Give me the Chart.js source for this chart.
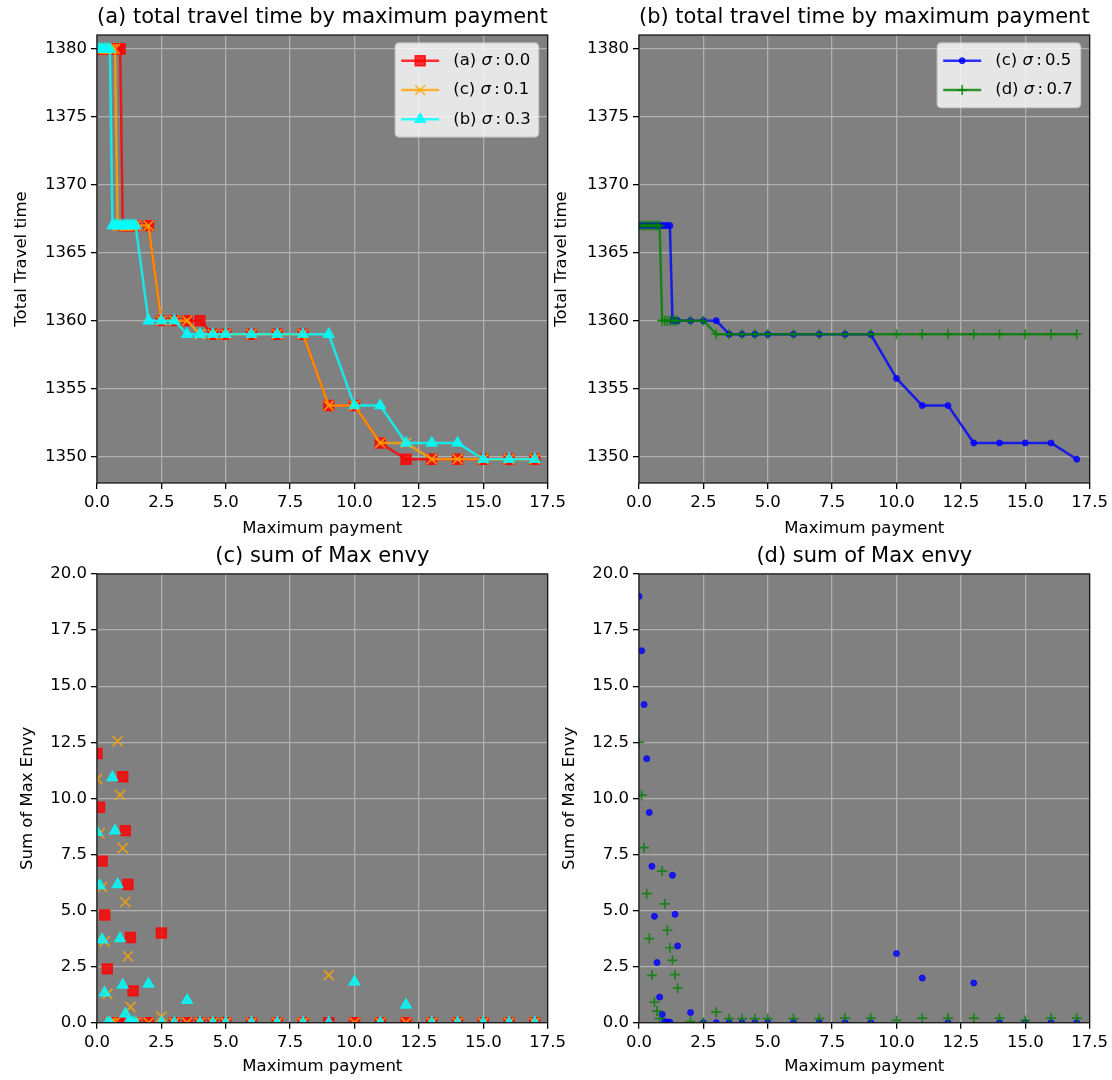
<!DOCTYPE html>
<html>
<head>
<meta charset="utf-8">
<script src="https://cdn.jsdelivr.net/npm/chart.js@4.4.0/dist/chart.umd.min.js"></script>
<style>
  body { margin: 0; background: #fff; }
  #wrap { position: relative; width: 1112px; height: 1080px; overflow: hidden; }
  canvas { position: absolute; }
</style>
</head>
<body>
<div id="wrap">
  <canvas id="chartA" width="570" height="545" style="left:0px;top:0px"></canvas>
  <canvas id="chartB" width="567" height="545" style="left:545px;top:0px"></canvas>
  <canvas id="chartC" width="570" height="541" style="left:0px;top:539px"></canvas>
  <canvas id="chartD" width="567" height="541" style="left:545px;top:539px"></canvas>
</div>
<script>
// maximum payment values used by every series
const payment = [0, 0.1, 0.2, 0.3, 0.4, 0.5, 0.6, 0.7, 0.8, 0.9, 1.0, 1.1, 1.2, 1.3, 1.4, 1.5,
  2, 2.5, 3, 3.5, 4, 4.5, 5, 6, 7, 8, 9, 10, 11, 12, 13, 14, 15, 16, 17];

// total travel time
const timeSigma00 = [1380, 1380, 1380, 1380, 1380, 1380, 1380, 1380, 1380, 1380, 1367, 1367, 1367, 1367, 1367, 1367,
  1367, 1360, 1360, 1360, 1360, 1359, 1359, 1359, 1359, 1359, 1353.75, 1353.75, 1351, 1349.8, 1349.8, 1349.8, 1349.8, 1349.8, 1349.8];
const timeSigma01 = [1380, 1380, 1380, 1380, 1380, 1380, 1380, 1380, 1367, 1367, 1367, 1367, 1367, 1367, 1367, 1367,
  1367, 1360, 1360, 1360, 1359, 1359, 1359, 1359, 1359, 1359, 1353.75, 1353.75, 1351, 1351, 1349.8, 1349.8, 1349.8, 1349.8, 1349.8];
const timeSigma03 = [1380, 1380, 1380, 1380, 1380, 1380, 1367, 1367, 1367, 1367, 1367, 1367, 1367, 1367, 1367, 1367,
  1360, 1360, 1360, 1359, 1359, 1359, 1359, 1359, 1359, 1359, 1359, 1353.75, 1353.75, 1351, 1351, 1351, 1349.8, 1349.8, 1349.8];
const timeSigma05 = [1367, 1367, 1367, 1367, 1367, 1367, 1367, 1367, 1367, 1367, 1367, 1367, 1367, 1360, 1360, 1360,
  1360, 1360, 1360, 1359, 1359, 1359, 1359, 1359, 1359, 1359, 1359, 1355.75, 1353.75, 1353.75, 1351, 1351, 1351, 1351, 1349.8];
const timeSigma07 = [1367, 1367, 1367, 1367, 1367, 1367, 1367, 1367, 1367, 1360, 1360, 1360, 1360, 1360, 1360, 1360,
  1360, 1360, 1359, 1359, 1359, 1359, 1359, 1359, 1359, 1359, 1359, 1359, 1359, 1359, 1359, 1359, 1359, 1359, 1359];

// sum of max envy
const envySigma00 = [12.0, 9.6, 7.2, 4.8, 2.4, 0, 0, 0, 0, 0, 10.96, 8.56, 6.16, 3.8, 1.42, 0,
  0, 4.0, 0, 0, 0, 0, 0, 0, 0, 0, 0, 0, 0, 0, 0, 0, 0, 0, 0];
const envySigma01 = [10.86, 8.44, 6.04, 3.63, 1.28, 0, 0, 0, 12.55, 10.15, 7.78, 5.38, 2.96, 0.7, 0, 0,
  0, 0.27, 0, 0, 0, 0, 0, 0, 0, 0, 2.12, 0, 0, 0, 0, 0, 0, 0, 0];
const envySigma03 = [8.49, 6.12, 3.7, 1.33, 0, 0, 10.93, 8.56, 6.16, 3.75, 1.68, 0.39, 0, 0, 0, 0,
  1.72, 0, 0, 1.0, 0, 0, 0, 0, 0, 0, 0, 1.82, 0, 0.79, 0, 0, 0, 0, 0];
const envySigma05 = [19.0, 16.58, 14.18, 11.77, 9.37, 6.97, 4.74, 2.68, 1.14, 0.37, 0.05, 0.03, 0.02, 6.57, 4.83, 3.42,
  0.45, 0, 0, 0, 0, 0, 0, 0, 0, 0, 0, 3.08, 1.99, 0, 1.77, 0, 0, 0, 0];
const envySigma07 = [12.5, 10.14, 7.8, 5.75, 3.75, 2.11, 0.92, 0.52, 0.18, 6.76, 5.3, 4.12, 3.34, 2.78, 2.14, 1.54,
  0.05, 0.02, 0.47, 0.18, 0.18, 0.18, 0.18, 0.18, 0.18, 0.2, 0.2, 0.1, 0.2, 0.2, 0.2, 0.2, 0.1, 0.2, 0.2];

// tick labels
const paymentTicks = [0, 2.5, 5, 7.5, 10, 12.5, 15, 17.5];
const timeTicks = [1350, 1355, 1360, 1365, 1370, 1375, 1380];
const envyTicks = [0, 2.5, 5, 7.5, 10, 12.5, 15, 17.5, 20];

const FONT = "'DejaVu Sans', sans-serif";
Chart.defaults.font.family = FONT;
Chart.defaults.color = '#000';

const red = { color: 'rgba(255,0,0,0.8)', pointStyle: 'rect', radius: 7, bw: 1.5 };
const orange = { color: 'rgba(255,165,0,0.8)', pointStyle: 'crossRot', radius: 7.1, bw: 1.7 };
const cyan = { color: 'rgba(0,255,255,0.8)', pointStyle: 'triangle', radius: 6, bw: 1.5 };
const blue = { color: 'rgba(0,0,255,0.8)', pointStyle: 'circle', radius: 3, bw: 1 };
const green = { color: 'rgba(0,128,0,0.8)', pointStyle: 'cross', radius: 5, bw: 1.7 };

function series(label, ys, st, showLine, order) {
    return {
        label: label,
        data: payment.map((x, i) => ({ x: x, y: ys[i] })),
        showLine: showLine,
        borderColor: st.color,
        backgroundColor: st.color,
        borderWidth: 2.5,
        borderJoinStyle: 'round',
        pointStyle: st.pointStyle,
        pointRadius: st.radius,
        pointBorderWidth: st.bw,
        pointBackgroundColor: st.color,
        pointBorderColor: st.color,
        clip: 0,
        order: order
    };
}

function drawLegend(chart) {
    const ctx = chart.ctx, a = chart.chartArea;
    const sets = chart.data.datasets;
    const size = 16.5;
    const normal = size + 'px ' + FONT, italic = 'italic ' + size + 'px ' + FONT;
    const parts = sets.map(ds => {
        const p = ds.label.split('σ');
        return { pre: p[0], post: '\u2009' + p[1].replace(':', ':\u2009') };
    });
    let textW = 0;
    parts.forEach(p => {
        ctx.font = normal;
        let w = ctx.measureText(p.pre).width + ctx.measureText(p.post).width;
        ctx.font = italic;
        w += ctx.measureText('σ').width;
        textW = Math.max(textW, w);
    });
    const rowH = 29.3, pad = 17.7, handle = 38;
    const w = 6 + handle + 14 + textW + 8;
    const h = pad * 2 + rowH * (sets.length - 1);
    const x0 = a.right - 9 - w, y0 = a.top + 8;

    ctx.beginPath();
    ctx.roundRect(x0, y0, w, h, 4);
    ctx.fillStyle = 'rgba(255,255,255,0.8)';
    ctx.fill();
    ctx.strokeStyle = 'rgba(204,204,204,0.8)';
    ctx.lineWidth = 1.3;
    ctx.stroke();

    sets.forEach((ds, i) => {
        const cy = y0 + pad + i * rowH;
        ctx.strokeStyle = ds.borderColor;
        ctx.lineWidth = ds.borderWidth;
        ctx.beginPath();
        ctx.moveTo(x0 + 6, cy);
        ctx.lineTo(x0 + 6 + handle, cy);
        ctx.stroke();
        ctx.fillStyle = ds.pointBackgroundColor;
        ctx.strokeStyle = ds.pointBorderColor;
        ctx.lineWidth = ds.pointBorderWidth;
        Chart.helpers.drawPoint(ctx, {
            pointStyle: ds.pointStyle, radius: ds.pointRadius,
            borderWidth: ds.pointBorderWidth, rotation: 0
        }, x0 + 6 + handle / 2, cy);

        let tx = x0 + 6 + handle + 14;
        ctx.fillStyle = '#000';
        ctx.textBaseline = 'middle';
        ctx.textAlign = 'left';
        ctx.font = normal;
        ctx.fillText(parts[i].pre, tx, cy);
        tx += ctx.measureText(parts[i].pre).width;
        ctx.font = italic;
        ctx.fillText('σ', tx, cy);
        tx += ctx.measureText('σ').width;
        ctx.font = normal;
        ctx.fillText(parts[i].post, tx, cy);
    });
}

// grey plot background, black frame and legend inside the plot
const plotFrame = {
    id: 'plotFrame',
    beforeDraw(chart) {
        const a = chart.chartArea, ctx = chart.ctx;
        ctx.save();
        ctx.fillStyle = '#808080';
        ctx.fillRect(a.left, a.top, a.right - a.left, a.bottom - a.top);
        ctx.restore();
    },
    afterDraw(chart, args, opts) {
        const a = chart.chartArea, ctx = chart.ctx;
        ctx.save();
        ctx.strokeStyle = '#1a1a1a';
        ctx.lineWidth = 1.3;
        ctx.strokeRect(a.left, a.top, a.right - a.left, a.bottom - a.top);
        if (opts.legend) drawLegend(chart);
        ctx.restore();
    }
};

function makeChart(id, p) {
    const grid = { color: '#b0b0b0', lineWidth: 1.3, tickLength: 6, tickColor: '#000', tickWidth: 1.3 };
    return new Chart(document.getElementById(id), {
        type: 'scatter',
        data: { datasets: p.datasets },
        options: {
            responsive: false,
            animation: false,
            events: [],
            layout: { padding: { left: 0, top: 0, right: 22, bottom: 0 } },
            scales: {
                x: {
                    type: 'linear', min: 0, max: 17.5,
                    afterBuildTicks: s => { s.ticks = paymentTicks.map(v => ({ value: v })); },
                    afterFit: s => { s.height = p.xHeight; },
                    ticks: { callback: v => v.toFixed(1), font: { size: 16.5 }, padding: 4, maxRotation: 0, autoSkip: false, color: '#000' },
                    grid: grid,
                    border: { display: false },
                    title: { display: true, text: 'Maximum payment', font: { size: 16.5 }, color: '#000', padding: { top: 0, bottom: p.xTitlePad } }
                },
                y: {
                    type: 'linear', min: p.yMin, max: p.yMax,
                    afterBuildTicks: s => { s.ticks = p.yTicks.map(v => ({ value: v })); },
                    afterFit: s => { s.width = p.yWidth; },
                    ticks: { callback: p.yFormat, font: { size: 16.5 }, padding: 4, autoSkip: false, color: '#000' },
                    grid: grid,
                    border: { display: false },
                    title: { display: true, text: p.yTitle, font: { size: 16.5 }, color: '#000', padding: { top: p.yTitlePad, bottom: 0 } }
                }
            },
            plugins: {
                legend: { display: false },
                tooltip: { enabled: false },
                title: {
                    display: true, text: p.title, fullSize: false, color: '#000',
                    font: { size: 21, weight: 'normal' }, padding: { top: 4.6, bottom: 5.2 }
                },
                plotFrame: { legend: p.legend }
            }
        },
        plugins: [plotFrame]
    });
}

const timeFormat = v => String(v);
const envyFormat = v => v.toFixed(1);

makeChart('chartA', {
    title: '(a) total travel time by maximum payment',
    datasets: [
        series('(a) σ:0.0', timeSigma00, red, true, 3),
        series('(c) σ:0.1', timeSigma01, orange, true, 2),
        series('(b) σ:0.3', timeSigma03, cyan, true, 1)
    ],
    yMin: 1348.05, yMax: 1381.03, yTicks: timeTicks, yFormat: timeFormat,
    yTitle: 'Total Travel time', yWidth: 97, yTitlePad: 12.1,
    xHeight: 62, xTitlePad: 6.1, legend: true
});

makeChart('chartB', {
    title: '(b) total travel time by maximum payment',
    datasets: [
        series('(c) σ:0.5', timeSigma05, blue, true, 2),
        series('(d) σ:0.7', timeSigma07, green, true, 1)
    ],
    yMin: 1348.05, yMax: 1381.03, yTicks: timeTicks, yFormat: timeFormat,
    yTitle: 'Total Travel time', yWidth: 94, yTitlePad: 7.1,
    xHeight: 62, xTitlePad: 6.1, legend: true
});

makeChart('chartC', {
    title: '(c) sum of Max envy',
    datasets: [
        series('(a) σ:0.0', envySigma00, red, false, 3),
        series('(c) σ:0.1', envySigma01, orange, false, 2),
        series('(b) σ:0.3', envySigma03, cyan, false, 1)
    ],
    yMin: 0, yMax: 20, yTicks: envyTicks, yFormat: envyFormat,
    yTitle: 'Sum of Max Envy', yWidth: 97, yTitlePad: 18.1,
    xHeight: 57.3, xTitlePad: 3.1, legend: false
});

makeChart('chartD', {
    title: '(d) sum of Max envy',
    datasets: [
        series('(c) σ:0.5', envySigma05, blue, false, 2),
        series('(d) σ:0.7', envySigma07, green, false, 1)
    ],
    yMin: 0, yMax: 20, yTicks: envyTicks, yFormat: envyFormat,
    yTitle: 'Sum of Max Envy', yWidth: 94, yTitlePad: 15.1,
    xHeight: 57.3, xTitlePad: 3.1, legend: false
});
</script>
</body>
</html>
